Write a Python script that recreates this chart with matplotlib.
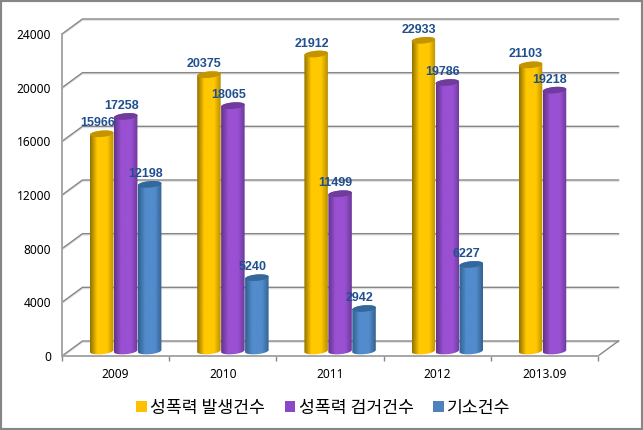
import numpy as np
import matplotlib
matplotlib.use('Agg')
import matplotlib.pyplot as plt
from matplotlib.colors import LinearSegmentedColormap
from matplotlib.patches import Patch, Polygon, Rectangle

plt.rcParams['font.family'] = ['Noto Sans', 'Noto Sans CJK KR', 'DejaVu Sans']

YEARS = ['2009', '2010', '2011', '2012', '2013.09']
SERIES_NAMES = ['성폭력 발생건수', '성폭력 검거건수', '기소건수']
OCCURRED = [15966, 20375, 21912, 22933, 21103]
ARRESTED = [17258, 18065, 11499, 19786, 19218]
INDICTED = [12198, 5240, 2942, 6227, None]
Y_TICKS = [0, 4000, 8000, 12000, 16000, 20000, 24000]

# left edge, lit centre, right edge, top cap, legend swatch
GOLD = ['#937200', '#ffc800', '#b98e00', '#c49300', '#ffc000']
PURPLE = ['#5f3488', '#9a50d2', '#6a3a98', '#703c9c', '#8a48c8']
BLUE = ['#2f5f8c', '#528ccc', '#33628f', '#34689c', '#4f81bd']

W, H = 643, 430
fig = plt.figure(figsize=(W / 100, H / 100), dpi=100)
ax = fig.add_axes([62 / W, 1 - 356 / H, (598 - 62) / W, (356 - 34) / H])
ax.set_facecolor('none')

PX_X = 5 / (598 - 62)
PX_Y = 24000 / (356 - 34)
DEPTH_X = 20.5 * PX_X
DEPTH_Y = 15 * PX_Y
LINE = '#868686'
SHADOW = '#e0e0e0'


def cylinder(x0, value, colors, z):
    # one 3d looking bar, horizontal gradient clipped to the outline
    width = 23.5 * PX_X
    cx = x0 + width / 2
    base = 5 * PX_Y
    lift = 8 * PX_Y
    t = np.linspace(0, np.pi, 40)
    a = width / 2
    b = 3.2 * PX_Y
    tilt = 1 * PX_Y
    top_x = cx + a * np.cos(t)
    top_y = lift + value + b * np.sin(t) + tilt * np.cos(t)
    bot_x = cx - a * np.cos(t)
    bot_y = base - b * np.sin(t) - tilt * np.cos(t)
    outline = np.column_stack([np.r_[top_x, bot_x], np.r_[top_y, bot_y]])
    cmap = LinearSegmentedColormap.from_list(
        'bar', [(0, colors[0]), (0.3, colors[1]), (0.72, colors[1]), (1, colors[2])])
    im = ax.imshow(np.linspace(0, 1, 64).reshape(1, -1), cmap=cmap, aspect='auto',
                   extent=[cx - a, cx + a, 0, lift + value + 2 * b], zorder=z)
    im.set_clip_path(Polygon(outline, transform=ax.transData))
    cap_y = lift + value - b * np.sin(t) + tilt * np.cos(t)
    cap = np.column_stack([np.r_[top_x, top_x[::-1]], np.r_[top_y, cap_y[::-1]]])
    ax.add_patch(Polygon(cap, closed=True, fc=colors[3], ec='none', zorder=z + 0.1, clip_on=False))


# walls and floor
for v in Y_TICKS:
    for off, col in [(-1.2 * PX_Y, SHADOW), (0, LINE)]:
        ax.plot([0, DEPTH_X, 5 + DEPTH_X], [v + off, v + DEPTH_Y + off, v + DEPTH_Y + off],
                color=col, lw=1.0, clip_on=False, zorder=1)
ax.plot([5, 5 + DEPTH_X], [0, DEPTH_Y], color=LINE, lw=1.0, clip_on=False, zorder=1)

for i in range(len(YEARS)):
    x = i + 0.261
    for j, (vals, colors) in enumerate([(OCCURRED, GOLD), (ARRESTED, PURPLE), (INDICTED, BLUE)]):
        if vals[i] is None:
            continue
        cylinder(x + j * 0.2235, vals[i], colors, 3 + j)
        ax.annotate(str(vals[i]), (x + j * 0.2235 + 0.11, vals[i]), xytext=(-4.5, 18.5),
                    textcoords='offset pixels', ha='center', va='center', fontsize=9,
                    family='Liberation Sans', fontweight='bold', color='#1f4f8f',
                    zorder=10, annotation_clip=False)

ax.set_xlim(0, 5)
ax.set_ylim(0, 24000)
ax.set_yticks(Y_TICKS)
ax.set_xticks(np.arange(6))
ax.set_xticklabels([])
ax.set_xticks(np.arange(5) + 0.5, YEARS, minor=True)
ax.tick_params(axis='x', which='major', length=3.6, color=LINE, width=1)
ax.tick_params(axis='x', which='minor', length=0, pad=9, labelsize=8.6)
ax.tick_params(axis='y', length=0, pad=8, labelsize=8.6)
for lab in ax.get_yticklabels() + ax.get_xticklabels(minor=True):
    lab.set_fontfamily('Noto Sans')
for s in ['top', 'right']:
    ax.spines[s].set_visible(False)
for s in ['left', 'bottom']:
    ax.spines[s].set_color('#a6a6a6')
    ax.spines[s].set_linewidth(1.4)

handles = [Patch(fc=c[4], ec='none') for c in (GOLD, PURPLE, BLUE)]
fig.legend(handles, SERIES_NAMES, ncol=3, loc='center', bbox_to_anchor=(323.5 / W, 1 - 408 / H),
           frameon=False, handlelength=0.6, handleheight=0.6,
           handletextpad=0.2, columnspacing=1.15, prop={'family': ['Noto Sans CJK KR', 'DejaVu Sans'], 'size': 12.4})

fig.add_artist(Rectangle((0, 0), 1, 1, transform=fig.transFigure, fill=False, ec='#868686', lw=3))

fig.savefig('out.png', dpi=100)
